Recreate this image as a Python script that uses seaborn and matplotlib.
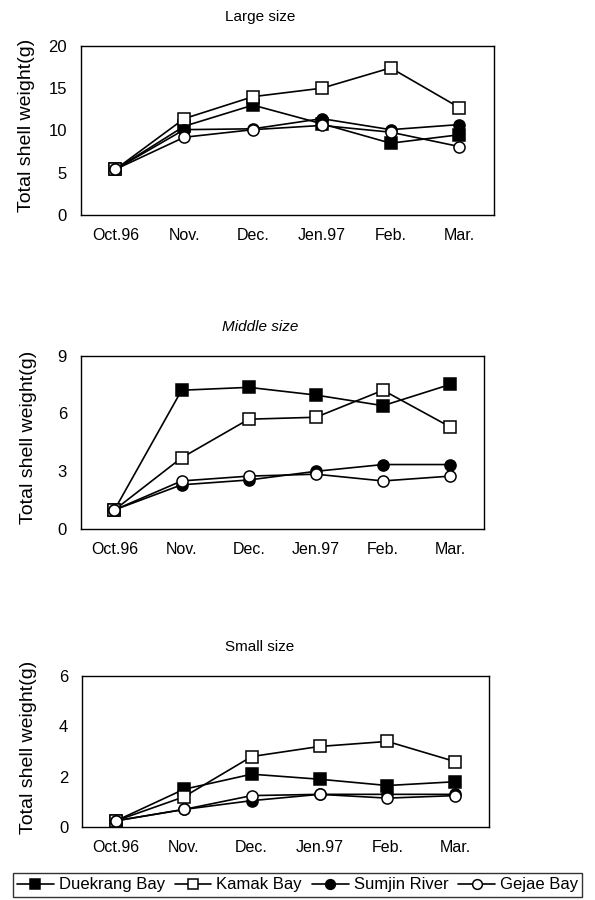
import numpy as np
import pandas as pd
import seaborn as sns
import matplotlib.pyplot as plt
from matplotlib.lines import Line2D

sns.set_style("white")
plt.rcParams['font.family'] = ['Liberation Sans', 'DejaVu Sans']
plt.rcParams['text.color'] = 'black'
plt.rcParams['axes.labelcolor'] = 'black'
plt.rcParams['xtick.color'] = 'black'
plt.rcParams['ytick.color'] = 'black'

months = ['Oct.96', 'Nov.', 'Dec.', 'Jen.97', 'Feb.', 'Mar.']
sites = ['Duekrang Bay', 'Kamak Bay', 'Sumjin River', 'Gejae Bay']

# total shell weight (g), one list per site
large_duekrang = [5.4, 10.5, 13.0, 10.8, 8.5, 9.5]
large_kamak = [5.4, 11.4, 14.0, 15.0, 17.4, 12.7]
large_sumjin = [5.4, 10.1, 10.2, 11.4, 10.1, 10.7]
large_gejae = [5.4, 9.2, 10.1, 10.6, 9.8, 8.1]

middle_duekrang = [1.0, 7.2, 7.35, 6.95, 6.4, 7.5]
middle_kamak = [1.0, 3.7, 5.7, 5.8, 7.2, 5.3]
middle_sumjin = [1.0, 2.3, 2.55, 3.0, 3.35, 3.35]
middle_gejae = [1.0, 2.5, 2.75, 2.85, 2.5, 2.75]

small_duekrang = [0.25, 1.5, 2.1, 1.9, 1.65, 1.8]
small_kamak = [0.25, 1.2, 2.8, 3.2, 3.4, 2.6]
small_sumjin = [0.25, 0.7, 1.05, 1.3, 1.3, 1.3]
small_gejae = [0.25, 0.7, 1.25, 1.3, 1.15, 1.25]

panels = [
    ('Large size', 'normal', [large_duekrang, large_kamak, large_sumjin, large_gejae],
     (0, 20), [0, 5, 10, 15, 20], [0.136, 0.761, 0.694, 0.188]),
    ('Middle size', 'italic', [middle_duekrang, middle_kamak, middle_sumjin, middle_gejae],
     (0, 9), [0, 3, 6, 9], [0.136, 0.412, 0.677, 0.193]),
    ('Small size', 'normal', [small_duekrang, small_kamak, small_sumjin, small_gejae],
     (0, 6), [0, 2, 4, 6], [0.138, 0.081, 0.684, 0.168]),
]

marker_style = {
    'Duekrang Bay': dict(marker='s', markerfacecolor='black'),
    'Kamak Bay': dict(marker='s', markerfacecolor='white'),
    'Sumjin River': dict(marker='o', markerfacecolor='black'),
    'Gejae Bay': dict(marker='o', markerfacecolor='white'),
}

fig = plt.figure(figsize=(5.95, 9), dpi=100)

for title, fstyle, series, ylim, yticks, rect in panels:
    ax = fig.add_axes(rect)
    rows = []
    for site, vals in zip(sites, series):
        for i, v in enumerate(vals):
            rows.append({'site': site, 'x': i, 'weight': v})
    df = pd.DataFrame(rows)
    for site in sites:
        sns.lineplot(data=df[df.site == site], x='x', y='weight', ax=ax,
                     color='black', linewidth=1.2, markersize=8,
                     markeredgecolor='black', markeredgewidth=1.1,
                     **marker_style[site])
    ax.set_xlim(-0.5, 5.5)
    ax.set_ylim(*ylim)
    ax.set_yticks(yticks)
    ax.set_xticks(range(len(months)))
    ax.set_xticklabels(months)
    ax.set_xticks(np.arange(0.5, 5, 1), minor=True)
    ax.tick_params(axis='x', which='major', length=0, pad=9, labelsize=11.5)
    ax.tick_params(axis='x', which='minor', direction='in', length=3, width=0.8)
    ax.tick_params(axis='y', direction='in', length=3, width=0.8, pad=10, labelsize=12)
    ax.set_xlabel('')
    ax.set_ylabel('Total shell weight(g)', fontsize=14)
    ax.yaxis.set_label_coords(-0.11, 0.53)
    for sp in ax.spines.values():
        sp.set_color('black')
        sp.set_linewidth(1.0)
    top = rect[1] + rect[3]
    fig.text(0.437, top + 0.032, title, ha='center', va='center',
             fontsize=11, style=fstyle)

handles = [Line2D([], [], color='black', linewidth=1.2, markersize=7,
                  markeredgecolor='black', markeredgewidth=1.1, **marker_style[s])
           for s in sites]
fig.legend(handles, sites, loc='center', bbox_to_anchor=(0.5, 0.0167), ncol=4,
           fontsize=12, frameon=True, fancybox=False, edgecolor='black',
           handlelength=2.2, handletextpad=0.3, columnspacing=0.6,
           borderpad=0.25, borderaxespad=0)

fig.savefig('out.png', dpi=100)
